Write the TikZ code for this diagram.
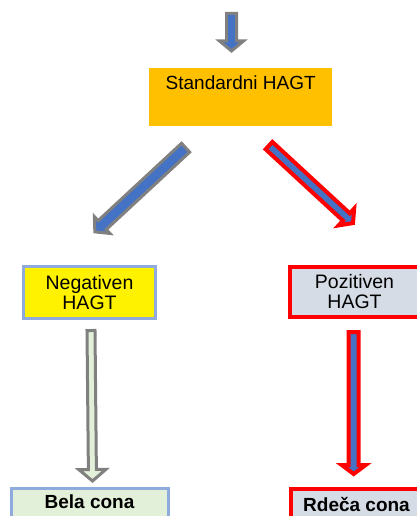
\documentclass[tikz,border=0pt]{standalone}
\usepackage{fontspec}
\setmainfont{Liberation Sans}
\usetikzlibrary{calc}
\definecolor{arrblue}{HTML}{4472C4}
\definecolor{arrgray}{HTML}{808080}
\definecolor{arrred}{HTML}{FF0000}
\definecolor{gold}{HTML}{FFC000}
\definecolor{ltblue}{HTML}{8FAADC}
\definecolor{ltgreen}{HTML}{E2F0D9}
\definecolor{ltgray}{HTML}{D6DCE5}
\newcommand\blkarrow[6]{%
  \path let \p1=(#2), \p2=(#3) in \pgfextra{%
    \pgfmathsetmacro\baang{atan2(\y2-\y1,\x2-\x1)}%
    \pgfmathsetmacro\balen{veclen(\x2-\x1,\y2-\y1)}%
    \global\let\baang\baang \global\let\balen\balen};
  \begin{scope}[shift={(#2)}, rotate=\baang, x=1pt, y=1pt]
    \draw[#1] (0,-#4) -- ({\balen-#6},-#4) -- ({\balen-#6},-#5) -- (\balen,0)
      -- ({\balen-#6},#5) -- ({\balen-#6},#4) -- (0,#4) -- cycle;
  \end{scope}}
\tikzset{
  grayarrow/.style={draw=arrgray, line width=3pt, fill=arrblue, line join=miter},
  greenarrow/.style={draw=arrgray, line width=3pt, fill=ltgreen, line join=miter},
  redarrow/.style={draw=arrred, line width=4pt, fill=arrblue, line join=miter},
  boxtext/.style={font=\fontsize{19.5}{20}\selectfont, align=center, inner sep=0pt},
  bluebox/.style={boxtext, rectangle, draw=ltblue, line width=3pt},
  redbox/.style={boxtext, rectangle, draw=arrred, line width=4pt},
}
\begin{document}
\begin{tikzpicture}[x=1pt, y=-1pt]
\useasboundingbox (0,0) rectangle (417,516);
\clip (0,0) rectangle (417,516);
% boxes
\node[boxtext, font=\fontsize{19}{20}\selectfont, fill=gold, minimum width=183pt, anchor=north west,
      text height=21pt, text depth=37pt] (std) at (149,68) {Standardni HAGT};
\node[bluebox, fill=yellow, minimum width=132pt, minimum height=52pt] (neg) at (89.5,292.5) {Negativen\\HAGT};
\node[redbox, fill=ltgray, minimum width=129pt, minimum height=50pt] (poz) at (354.5,292) {Pozitiven\\HAGT};
\node[bluebox, fill=ltgreen, minimum width=157pt, anchor=north west,
      text height=20.5pt, text depth=25pt, font=\fontsize{19}{20}\selectfont\bfseries] (bela) at (9.5,486.5) {Bela cona};
\node[redbox, fill=ltgray, minimum width=131pt, anchor=north west,
      text height=22pt, text depth=25pt, font=\fontsize{19}{20}\selectfont\bfseries] (rdeca) at (289,487) {Rdeča cona};
% arrow end points
\coordinate (inTail) at (231.5,13.5);
\coordinate (inTip) at ($(std.north west)+(82.5,-17)$);
\coordinate (lTail) at (185.6,147.7);
\coordinate (lTip) at (94.8,231.9);
\coordinate (rTail) at (269,145.6);
\coordinate (rTip) at (353,223.1);
\coordinate (nTail) at ($(neg.south)+(1.5,10.5)$);
\coordinate (nTip) at ($(bela.north)+(3,-5.5)$);
\coordinate (pTail) at ($(poz.south)+(-0.8,13)$);
\coordinate (pTip) at ($(rdeca.north west)+(64.7,-13)$);
% arrows
\blkarrow{grayarrow}{inTail}{inTip}{5}{12}{10}
\blkarrow{grayarrow}{lTail}{lTip}{6}{11.5}{10}
\blkarrow{redarrow}{rTail}{rTip}{5}{11.5}{9}
\blkarrow{greenarrow}{nTail}{nTip}{4}{13.5}{11.5}
\blkarrow{redarrow}{pTail}{pTip}{5}{12}{9}
\end{tikzpicture}
\end{document}
